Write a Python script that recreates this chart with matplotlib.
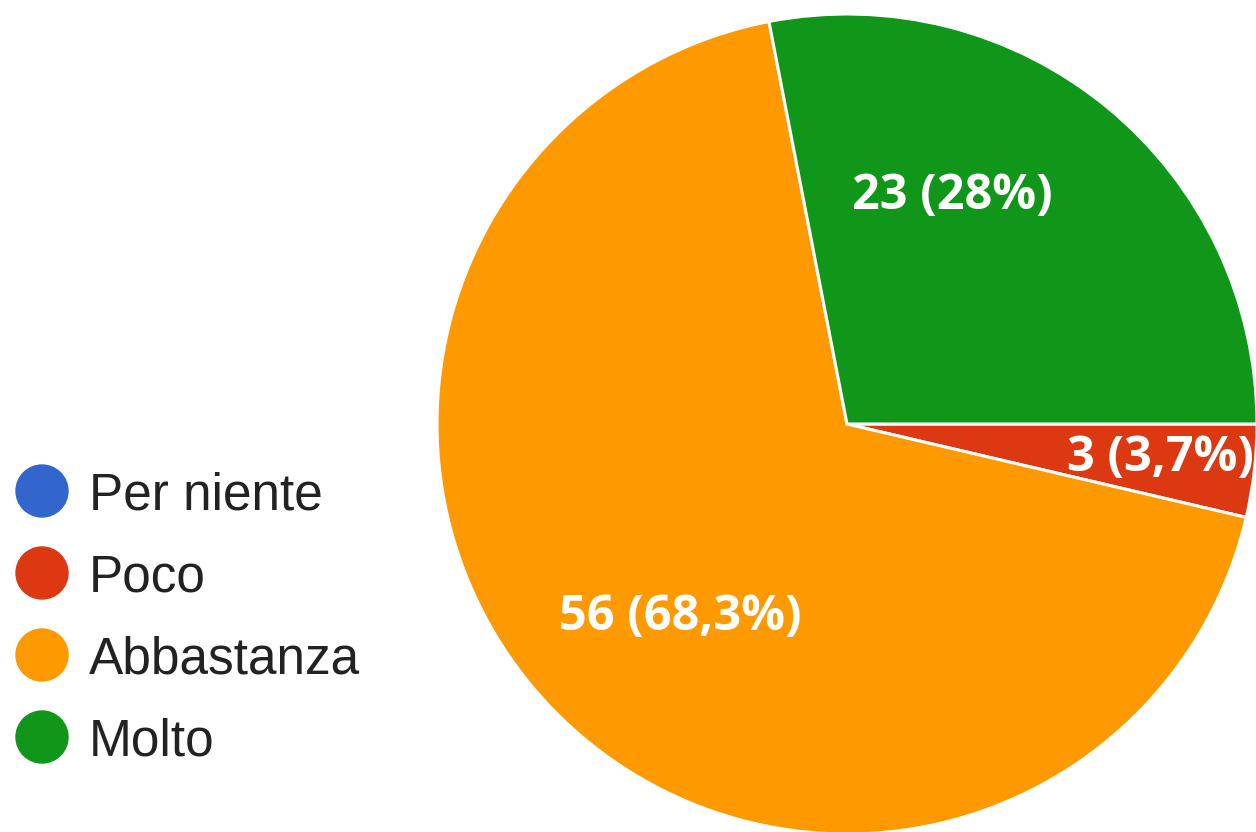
import matplotlib.pyplot as plt
from matplotlib.patches import Circle

# risposte al sondaggio
categories = ['Per niente', 'Poco', 'Abbastanza', 'Molto']
counts = [0, 3, 56, 23]
colors = ['#3366cc', '#dc3912', '#ff9900', '#109618']

# dove scrivere l'etichetta di ogni fetta (in unità di raggio)
label_pos = [None, (0.765, -0.083), (-0.407, -0.471), (0.256, 0.554)]

total = sum(counts)

def fmt_label(n):
    pct = round(100 * n / total, 1)
    s = f'{pct:.1f}'.rstrip('0').rstrip('.').replace('.', ',')
    return f'{n} ({s}%)'

fig = plt.figure(figsize=(12.56, 8.32), dpi=100)

# pie: centro (847, 424) px, raggio 410 px
cx, cy, R = 847, 424, 410
W, H = 1256, 832
ax = fig.add_axes([(cx - R) / W, (H - cy - R) / H, 2 * R / W, 2 * R / H])
ax.pie(counts, colors=colors, startangle=0, counterclock=False, radius=1,
       wedgeprops=dict(edgecolor='white', linewidth=2.2))
ax.set_xlim(-1, 1)
ax.set_ylim(-1, 1)
ax.set_aspect('equal')
ax.axis('off')

for n, pos in zip(counts, label_pos):
    if pos is None or n == 0:
        continue
    ax.text(pos[0], pos[1], fmt_label(n), color='white', fontsize=35,
            fontweight='bold', family='Open Sans', ha='center', va='center')

# legenda a sinistra
lax = fig.add_axes([0, 0, 1, 1])
lax.set_xlim(0, W)
lax.set_ylim(H, 0)
lax.axis('off')
for i, (cat, col) in enumerate(zip(categories, colors)):
    y = 491 + i * 82
    lax.add_patch(Circle((42, y), 26, color=col))
    lax.text(89, y + 19, cat, fontsize=37, family='Liberation Sans',
             color='#222222', ha='left', va='baseline')

fig.savefig('out.png', dpi=100)
